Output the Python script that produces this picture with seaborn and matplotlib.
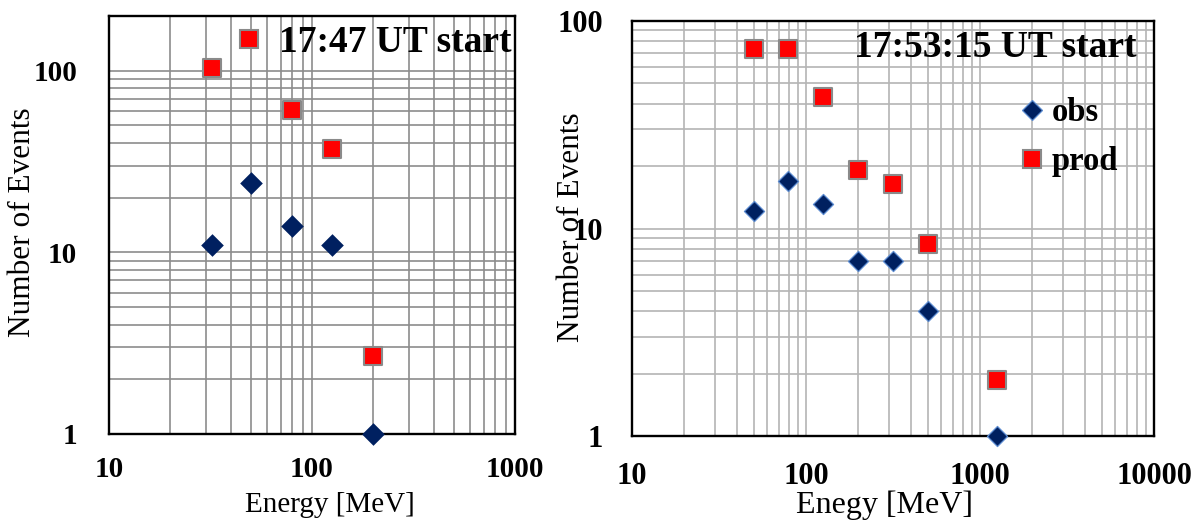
import numpy as np
import pandas as pd
import matplotlib
matplotlib.use("Agg")
import matplotlib.pyplot as plt
from matplotlib.lines import Line2D
from matplotlib.ticker import LogLocator, FixedLocator, NullFormatter
import seaborn as sns

# ---- data ----
left_energy_obs = [32, 50, 80, 126, 200]
left_obs = [11, 24, 14, 11, 1]
left_energy_prod = [32, 80, 126, 200]
left_prod = [103, 61, 37, 2.7]

right_energy = [50, 79, 126, 200, 316, 500, 1260]
right_obs = [12.1, 17, 13.1, 7.0, 7.0, 4.0, 1.0]
right_prod = [73, 73, 43, 19.1, 16.4, 8.45, 1.87]

left_title = "17:47 UT start"
right_title = "17:53:15 UT start"
left_xticks = [10, 100, 1000]
left_yticks = [1, 10, 100]
right_xticks = [10, 100, 1000, 10000]
right_yticks = [1, 10, 100]

sns.set_style("white")
plt.rcParams['font.family'] = ['Liberation Serif', 'DejaVu Serif']
plt.rcParams['text.color'] = 'black'
plt.rcParams['axes.labelcolor'] = 'black'
plt.rcParams['xtick.color'] = 'black'
plt.rcParams['ytick.color'] = 'black'

OBS_C = "#002060"
PROD_C = "#ff0000"
EDGE_G = "#8a8a8a"

fig = plt.figure(figsize=(11.98, 5.26), dpi=100)
axL = fig.add_axes([109/1198, 92/526, 406/1198, 418/526])
axR = fig.add_axes([632/1198, 90/526, 522/1198, 415/526])

dfLo = pd.DataFrame({"E": left_energy_obs, "N": left_obs})
dfLp = pd.DataFrame({"E": left_energy_prod, "N": left_prod})
dfRo = pd.DataFrame({"E": right_energy, "N": right_obs})
dfRp = pd.DataFrame({"E": right_energy, "N": right_prod})

for ax in (axL, axR):
    ax.set_xscale("log")
    ax.set_yscale("log")

# Left panel
sns.scatterplot(data=dfLo, x="E", y="N", ax=axL, marker="D", s=133,
                color=OBS_C, edgecolor=OBS_C, linewidth=0, zorder=5, clip_on=False)
sns.scatterplot(data=dfLp, x="E", y="N", ax=axL, marker="s", s=150,
                color=PROD_C, edgecolor=EDGE_G, linewidth=1.5, zorder=5, clip_on=False)
axL.set_xlim(10, 1000)
axL.set_ylim(1, 200)

# Right panel
sns.scatterplot(data=dfRo, x="E", y="N", ax=axR, marker="D", s=105,
                color=OBS_C, edgecolor="#5b8bd0", linewidth=0.9, zorder=5, clip_on=False)
sns.scatterplot(data=dfRp, x="E", y="N", ax=axR, marker="s", s=160,
                color=PROD_C, edgecolor=EDGE_G, linewidth=1.5, zorder=5, clip_on=False)
axR.set_xlim(10, 10000)
axR.set_ylim(1, 100)

for ax, xt, yt, gc, fs in ((axL, left_xticks, left_yticks, "#8c8c8c", 21),
                           (axR, right_xticks, right_yticks, "#b4b4b4", 22)):
    ax.xaxis.set_major_locator(FixedLocator(xt))
    ax.yaxis.set_major_locator(FixedLocator(yt))
    ax.set_xticklabels([str(v) for v in xt])
    ax.set_yticklabels([str(v) for v in yt])
    ax.xaxis.set_minor_locator(LogLocator(base=10, subs=np.arange(2, 10)))
    ax.yaxis.set_minor_locator(LogLocator(base=10, subs=np.arange(2, 10)))
    ax.xaxis.set_minor_formatter(NullFormatter())
    ax.yaxis.set_minor_formatter(NullFormatter())
    ax.grid(which="both", color=gc, linewidth=1.2)
    ax.set_axisbelow(True)
    for sp in ax.spines.values():
        sp.set_color("black")
        sp.set_linewidth(1.7)
    for lab in ax.get_xticklabels() + ax.get_yticklabels():
        lab.set_fontweight("bold")
        lab.set_fontsize(fs)
    ax.tick_params(which="minor", length=0)

axL.tick_params(which="major", length=0)
axL.tick_params(axis="y", pad=23)
axL.tick_params(axis="x", pad=16)
axR.tick_params(which="major", direction="out", length=5, width=1.2, color="black")
axR.tick_params(axis="y", pad=16)
axR.tick_params(axis="x", pad=14)

axL.set_xlabel("Energy [MeV]", fontsize=21)
axL.set_ylabel("Number of Events", fontsize=22.5)
axR.set_xlabel("Enegy [MeV]", fontsize=23)
axR.set_ylabel("Number of Events", fontsize=22.5)
for ax, xx, xy, yx, yy in ((axL, 0.544, -0.170, -0.212, 0.507),
                           (axR, 0.483, -0.166, -0.115, 0.504)):
    ax.xaxis.label.set_va("center")
    ax.yaxis.label.set_va("center")
    ax.xaxis.set_label_coords(xx, xy)
    ax.yaxis.set_label_coords(yx, yy)

# Left legend (prod marker labelled with time)
hL = Line2D([], [], marker="s", linestyle="none", markersize=13,
            markerfacecolor=PROD_C, markeredgecolor=EDGE_G, markeredgewidth=1.5)
axL.legend([hL], [left_title], loc="upper right", frameon=False,
           prop={"weight": "bold", "size": 27, "family": "Liberation Serif"},
           handletextpad=0.3, borderaxespad=0.0, bbox_to_anchor=(1.028, 1.014),
           handlelength=1.0)

# Right title + legend
axR.text(0.695, 0.935, right_title, transform=axR.transAxes, ha="center", va="center",
         fontsize=27, fontweight="bold")
hO = Line2D([], [], marker="D", linestyle="none", markersize=9.7,
            markerfacecolor=OBS_C, markeredgecolor="#5b8bd0", markeredgewidth=0.9)
hP = Line2D([], [], marker="s", linestyle="none", markersize=13,
            markerfacecolor=PROD_C, markeredgecolor=EDGE_G, markeredgewidth=1.5)
axR.legend([hO, hP], ["obs", "prod"], loc="upper left", bbox_to_anchor=(0.71, 0.848),
           frameon=False, prop={"weight": "bold", "size": 23.5, "family": "Liberation Serif"},
           handletextpad=0.1, labelspacing=0.55, borderaxespad=0.0, handlelength=1.0)

fig.savefig("out.png", dpi=100)
